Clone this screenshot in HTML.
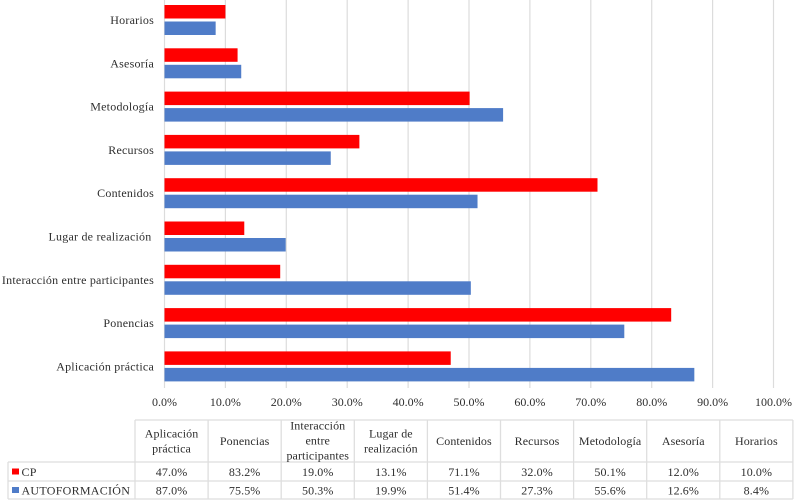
<!DOCTYPE html>
<html lang="es">
<head>
<meta charset="utf-8">
<title>CP vs Autoformación</title>
<style>
html,body{margin:0;padding:0;background:#fff;}
#chart{display:block;width:800px;height:502px;}
text{font-family:"Liberation Serif",serif;font-size:12px;fill:#2e2e2e;}
.cat{letter-spacing:.22px;}
.hdr{letter-spacing:.1px;}
.leg{letter-spacing:.27px;}
</style>
</head>
<body>
<svg id="chart" width="800" height="502" viewBox="0 0 800 502" xmlns="http://www.w3.org/2000/svg"></svg>
<script>
const categories = ["Aplicación práctica","Ponencias","Interacción entre participantes","Lugar de realización","Contenidos","Recursos","Metodología","Asesoría","Horarios"];
const headerLines = [["Aplicación","práctica"],["Ponencias"],["Interacción","entre","participantes"],["Lugar de","realización"],["Contenidos"],["Recursos"],["Metodología"],["Asesoría"],["Horarios"]];
const cpValues = [47.0,83.2,19.0,13.1,71.1,32.0,50.1,12.0,10.0];
const autoValues = [87.0,75.5,50.3,19.9,51.4,27.3,55.6,12.6,8.4];
const xTicks = [0,10,20,30,40,50,60,70,80,90,100];

const svg = document.getElementById('chart');
const NS = 'http://www.w3.org/2000/svg';
const RED = '#ff0000', BLUE = '#4f7cc8', GRID = '#dcdcdc', TABLE = '#dedede';

function add(tag, attrs, parent, txt){
  const el = document.createElementNS(NS, tag);
  for (const k in attrs) el.setAttribute(k, attrs[k]);
  if (txt !== undefined) el.textContent = txt;
  (parent || svg).appendChild(el);
  return el;
}
const PLOT_L = 164.5, PER_PCT = 6.09, BAND_TOP = -1.5, BAND_H = 43.3;
const xScale = v => PLOT_L + v * PER_PCT;
// index 0 sits at the bottom of the chart
const bandTop = i => BAND_TOP + (categories.length - 1 - i) * BAND_H;

// gridlines and tick labels
xTicks.forEach(t => {
  const g = add('line', {x1:xScale(t), x2:xScale(t), y1:0, y2:388, stroke:GRID, 'stroke-width':1.2});
  
  
  const l = add('text', {x:xScale(t), y:406, 'text-anchor':'middle'}, svg, t.toFixed(1) + '%');
  
  
});

// bars and category labels
categories.forEach((c, i) => {
  const top = bandTop(i);
  const r = add('rect', {x:xScale(0), y:top + 6.5, width:xScale(cpValues[i]) - xScale(0), height:13.5, fill:RED});
  
  
  const b = add('rect', {x:xScale(0), y:top + 23, width:xScale(autoValues[i]) - xScale(0), height:13.5, fill:BLUE});
  
  
  // the "Lugar de realización" label carries a trailing space in the reference
  const labelRight = c === 'Lugar de realización' ? 151.5 : 154;
  const l = add('text', {x:labelRight, y:top + 25.5, 'text-anchor':'end', 'class':'cat'}, svg, c);
  
  
});

// data table
const COL0 = 135, COLW = 73.1, LEFT = 8;
const Y0 = 420, Y1 = 462, Y2 = 481, Y3 = 499;
const colX = i => COL0 + i * COLW;
const right = colX(categories.length);
[[COL0,Y0,right,Y0],[LEFT,Y1,right,Y1],[LEFT,Y2,right,Y2],[LEFT,Y3,right,Y3],[LEFT,Y1,LEFT,Y3]].forEach(p => {
  const ln = add('line', {x1:p[0], y1:p[1], x2:p[2], y2:p[3], stroke:TABLE, 'stroke-width':1.3});
  
  
});
for (let i = 0; i <= categories.length; i++) {
  const ln = add('line', {x1:colX(i), y1:Y0, x2:colX(i), y2:Y3, stroke:TABLE, 'stroke-width':1.3});
  
  
}
headerLines.forEach((lines, i) => {
  const cx = colX(i) + COLW / 2;
  const start = 441 + 4 - (lines.length - 1) * 7.5 - (lines.length === 3 ? 0.5 : 0);
  lines.forEach((s, j) => {
    const t = add('text', {x:cx, y:start + j * 15, 'text-anchor':'middle', 'class':'hdr'}, svg, s);
    
    
  });
  const a = add('text', {x:cx, y:476, 'text-anchor':'middle', 'class':'hdr'}, svg, cpValues[i].toFixed(1) + '%');
  
  
  const b = add('text', {x:cx, y:494.5, 'text-anchor':'middle', 'class':'hdr'}, svg, autoValues[i].toFixed(1) + '%');
  
  
});

// legend keys inside the table
const k1 = add('rect', {x:12, y:468.5, width:7, height:6, fill:RED});


const t1 = add('text', {x:21.5, y:476, 'class':'leg'}, svg, 'CP');


const k2 = add('rect', {x:12, y:487, width:7, height:6, fill:BLUE});


const t2 = add('text', {x:21.5, y:494.5, 'class':'leg'}, svg, 'AUTOFORMACIÓN');


</script>
</body>
</html>
